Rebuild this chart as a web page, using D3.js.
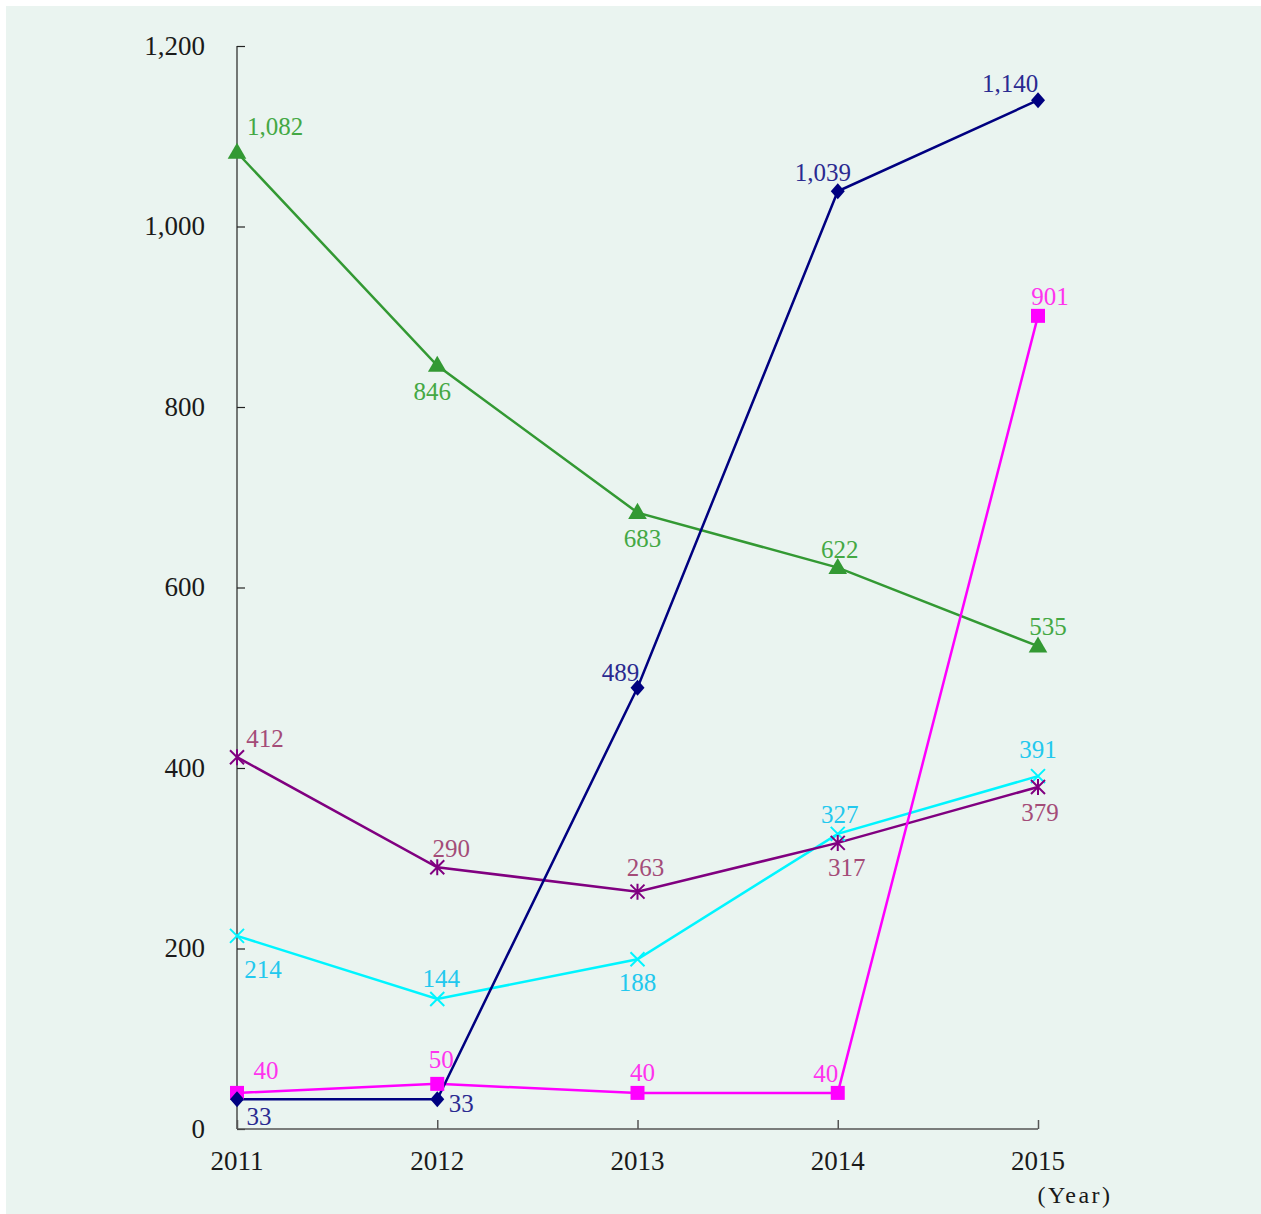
<!DOCTYPE html>
<html>
<head>
<meta charset="utf-8">
<script src="https://cdn.jsdelivr.net/npm/d3@7"></script>
<style>
  html, body { margin: 0; padding: 0; background: #ffffff; }
  svg { display: block; }
  text { font-family: "Liberation Serif", "DejaVu Serif", serif; }
</style>
</head>
<body>
<svg id="chart" width="1261" height="1214"></svg>
<script>
// Years on the x axis
const years = [2011, 2012, 2013, 2014, 2015];

// Series values, one array per line
const triangleSeries = [1082, 846, 683, 622, 535];
const diamondSeries  = [33, 33, 489, 1039, 1140];
const squareSeries   = [40, 50, 40, 40, 901];
const crossSeries    = [214, 144, 188, 327, 391];
const starSeries     = [412, 290, 263, 317, 379];

// Y axis tick values
const yTicks = [0, 200, 400, 600, 800, 1000, 1200];
const xUnitLabel = "(Year)";

// Label placement (dx, dy from the marker) for each point of each series
const triangleLabelPos = [[38, -26], [-5, 26], [5, 26], [2, -18], [10, -20]];
const diamondLabelPos  = [[22, 17], [24, 4], [-17, -15], [-15, -19], [-28, -17]];
const squareLabelPos   = [[29, -23], [4, -25], [5, -21], [-12, -20], [12, -20]];
const crossLabelPos    = [[26, 33], [4, -21], [0, 23], [2, -20], [0, -27]];
const starLabelPos     = [[28, -19], [14, -19], [8, -24], [9, 24], [2, 25]];

const series = [
  { values: crossSeries,    line: "#00f5ff", label: "#22c8ee", marker: "cross",    pos: crossLabelPos },
  { values: starSeries,     line: "#800080", label: "#a44c78", marker: "star",     pos: starLabelPos },
  { values: triangleSeries, line: "#339933", label: "#44a844", marker: "triangle", pos: triangleLabelPos },
  { values: squareSeries,   line: "#ff00ff", label: "#ff33ee", marker: "square",   pos: squareLabelPos },
  { values: diamondSeries,  line: "#000080", label: "#2a2a90", marker: "diamond",  pos: diamondLabelPos }
];

const svg = d3.select("#chart");

// panel background
svg.append("rect")
  .attr("x", 6).attr("y", 6)
  .attr("width", 1255).attr("height", 1208)
  .attr("fill", "#eaf4f0");

const x = d3.scalePoint().domain(years).range([237, 1038]);
const y = d3.scaleLinear().domain([0, 1200]).range([1129, 46]);

const fmt = d3.format(",");

// y axis: ticks point into the plot
const yAxis = d3.axisRight(y).tickValues(yTicks).tickSize(8).tickFormat("");
const yG = svg.append("g").attr("transform", `translate(${x(2011)},0)`).call(yAxis);
yG.select(".domain").attr("d", `M0,${y(0)}V${y(1200)}`);
yG.selectAll("line, path").attr("stroke", "#222").attr("stroke-width", 1.2);

svg.append("g").selectAll("text")
  .data(yTicks).join("text")
  .attr("x", 205).attr("y", d => y(d))
  .attr("dy", "0.33em")
  .attr("text-anchor", "end")
  .attr("font-size", 27)
  .attr("fill", "#1a1a1a")
  .text(d => fmt(d));

// x axis: ticks point up
const xAxis = d3.axisTop(x).tickSize(9).tickFormat("");
const xG = svg.append("g").attr("transform", `translate(0,${y(0)})`).call(xAxis);
xG.select(".domain").attr("d", `M${x(2011)},0H${x(2015)}`);
xG.selectAll("line, path").attr("stroke", "#555").attr("stroke-width", 1.5);

svg.append("g").selectAll("text")
  .data(years).join("text")
  .attr("x", d => x(d)).attr("y", 1170)
  .attr("text-anchor", "middle")
  .attr("font-size", 27)
  .attr("fill", "#1a1a1a")
  .text(d => d);

svg.append("text")
  .attr("x", 1075).attr("y", 1203)
  .attr("text-anchor", "middle")
  .attr("font-size", 24)
  .attr("letter-spacing", 2.5)
  .attr("fill", "#1a1a1a")
  .text(xUnitLabel);

const line = d3.line().x((d, i) => x(years[i])).y(d => y(d));

function drawMarker(g, kind, color) {
  if (kind === "triangle") {
    g.append("path").attr("d", d3.symbol(d3.symbolTriangle, 150)()).attr("fill", color)
      .attr("transform", "translate(0,1)");
  } else if (kind === "diamond") {
    g.append("path").attr("d", "M0,-8L7,0L0,8L-7,0Z").attr("fill", color);
  } else if (kind === "square") {
    g.append("rect").attr("x", -7).attr("y", -7).attr("width", 14).attr("height", 14).attr("fill", color);
  } else if (kind === "cross") {
    g.append("path").attr("d", "M-7,-7L7,7M-7,7L7,-7").attr("stroke", color).attr("stroke-width", 2);
  } else if (kind === "star") {
    g.append("path").attr("d", "M-7,-7L7,7M-7,7L7,-7M0,-8V8").attr("stroke", color).attr("stroke-width", 2);
  }
}

series.forEach(s => {
  svg.append("path")
    .datum(s.values)
    .attr("d", line)
    .attr("fill", "none")
    .attr("stroke", s.line)
    .attr("stroke-width", 2.5);
});

series.forEach(s => {
  s.values.forEach((v, i) => {
    const g = svg.append("g").attr("transform", `translate(${x(years[i])},${y(v)})`);
    drawMarker(g, s.marker, s.line);
  });
});

series.forEach(s => {
  svg.append("g").selectAll("text")
    .data(s.values).join("text")
    .attr("x", (d, i) => x(years[i]) + s.pos[i][0])
    .attr("y", (d, i) => y(d) + s.pos[i][1])
    .attr("dy", "0.35em")
    .attr("text-anchor", "middle")
    .attr("font-size", 25)
    .attr("fill", s.label)
    .text(d => fmt(d));
});
</script>
</body>
</html>
